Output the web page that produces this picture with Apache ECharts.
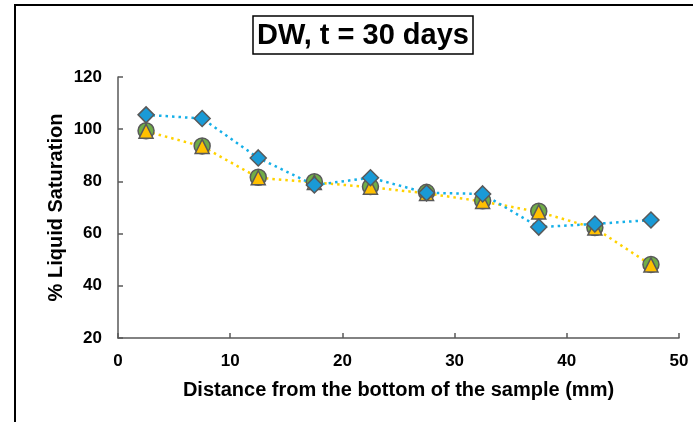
<!DOCTYPE html>
<html>
<head>
<meta charset="utf-8">
<script src="https://cdn.jsdelivr.net/npm/echarts@6/dist/echarts.min.js"></script>
<style>
  html, body { margin: 0; padding: 0; background: #fff; }
  #chart { width: 693px; height: 422px; }
</style>
</head>
<body>
<div id="chart"></div>
<script>
// distance from the bottom (mm)
const distance = [2.5, 7.5, 12.5, 17.5, 22.5, 27.5, 32.5, 37.5, 42.5, 47.5];
// % liquid saturation
const satCircle = [99.4, 93.6, 81.6, 79.9, 78.0, 75.8, 72.6, 68.6, 62.3, 48.2];
const satTriangle = [99.2, 93.4, 81.4, 79.6, 77.8, 75.4, 72.3, 68.3, 62.1, 48.0];
const satDiamond = [105.5, 104.1, 89.0, 78.6, 81.4, 75.6, 75.2, 62.5, 63.7, 65.2];

const pairs = vals => distance.map((d, i) => [d, vals[i]]);

const chart = echarts.init(document.getElementById('chart'));

const labelFont = {
  color: '#000',
  fontFamily: 'Liberation Sans, Arial, sans-serif',
  fontWeight: 'bold',
  fontSize: 17
};

chart.setOption({
  backgroundColor: '#fff',
  animation: false,
  title: {
    text: 'DW, t = 30 days',
    left: 253,
    top: 16,
    padding: [5, 4, 4, 4],
    borderColor: '#000',
    borderWidth: 1.5,
    textStyle: {
      fontFamily: 'Liberation Sans, Arial, sans-serif',
      fontWeight: 'bold',
      fontSize: 29,
      color: '#000'
    }
  },
  graphic: [{
    type: 'polyline',
    shape: { points: [[15, 422], [15, 5], [693, 5]] },
    style: { stroke: '#000', lineWidth: 2, fill: null }
  }],
  grid: { left: 118, right: 14, top: 77, bottom: 84 },
  xAxis: {
    type: 'value',
    min: 0,
    max: 50,
    interval: 10,
    name: 'Distance from the bottom of the sample (mm)',
    nameLocation: 'middle',
    nameGap: 42,
    nameMoveOverlap: false,
    nameTextStyle: Object.assign({}, labelFont, { fontSize: 20 }),
    axisLine: { onZero: false, lineStyle: { color: '#595959', width: 1.5 } },
    axisTick: { inside: true, length: 5, lineStyle: { color: '#595959', width: 1.5 } },
    axisLabel: Object.assign({ margin: 15 }, labelFont),
    splitLine: { show: false }
  },
  yAxis: {
    type: 'value',
    min: 20,
    max: 120,
    interval: 20,
    name: '% Liquid Saturation',
    nameLocation: 'middle',
    nameGap: 52,
    nameMoveOverlap: false,
    nameTextStyle: Object.assign({}, labelFont, { fontSize: 20 }),
    axisLine: { show: true, lineStyle: { color: '#595959', width: 1.5 } },
    axisTick: { show: true, inside: true, length: 5, lineStyle: { color: '#595959', width: 1.5 } },
    axisLabel: Object.assign({ margin: 16 }, labelFont),
    splitLine: { show: false }
  },
  series: [
    {
      name: 'circle',
      type: 'line',
      data: pairs(satCircle),
      symbol: 'circle',
      symbolSize: 16,
      lineStyle: { width: 0, opacity: 0 },
      itemStyle: { color: '#70ad47', borderColor: '#595959', borderWidth: 1.5 }
    },
    {
      name: 'triangle',
      type: 'line',
      data: pairs(satTriangle),
      symbol: 'triangle',
      symbolSize: 14,
      lineStyle: { color: '#ffd200', width: 2.5, type: [2.5, 4] },
      itemStyle: { color: '#ffc000', borderColor: '#595959', borderWidth: 1.5 }
    },
    {
      name: 'diamond',
      type: 'line',
      data: pairs(satDiamond),
      symbol: 'diamond',
      symbolSize: 16,
      lineStyle: { color: '#16b0e8', width: 2.5, type: [2.5, 4] },
      itemStyle: { color: '#1a9ad6', borderColor: '#595959', borderWidth: 1.5 }
    }
  ]
});
</script>
</body>
</html>
